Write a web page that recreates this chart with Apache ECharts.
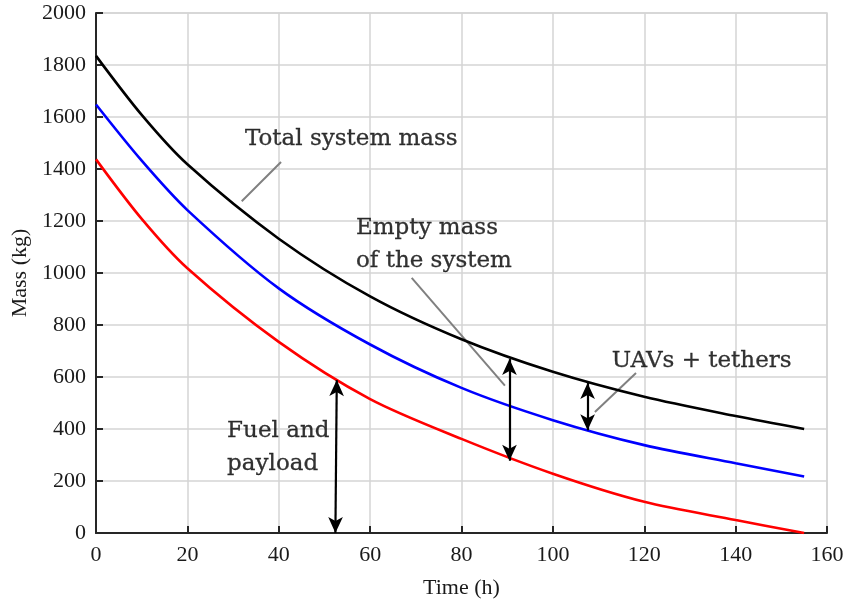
<!DOCTYPE html>
<html>
<head>
<meta charset="utf-8">
<script src="https://cdn.jsdelivr.net/npm/echarts@6/dist/echarts.min.js"></script>
<style>html,body{margin:0;padding:0;background:#fff}#c{width:844px;height:602px}</style>
</head>
<body>
<div id="c"></div>
<script>
// Data (time in h, mass in kg)
const totalMass = [[0,1835],[10,1608],[20,1418],[40,1132],[60,910],[80,745],[100,620],[120,524],[140,450],[155,400]];
const emptyMass = [[0,1648],[10,1432],[20,1242],[40,941],[60,725],[80,558],[100,434],[120,338],[140,268],[155,217]];
const fuelPayload = [[0,1437],[10,1208],[20,1018],[40,735],[60,515],[80,362],[100,228],[120,120],[140,50],[155,0]];
const xTicks = [0,20,40,60,80,100,120,140,160];
const yTicks = [0,200,400,600,800,1000,1200,1400,1600,1800,2000];

// Annotations (data coordinates)
const leaderTotal = [[31.9,1276],[40.5,1427]];
const leaderEmpty = [[69.1,981],[89.5,567]];
const leaderUav = [[109.2,465],[118.2,615]];
const arrowFuel = [[52.4,0],[52.7,588]];
const arrowEmpty = [[90.5,278],[90.5,669]];
const arrowUav = [[107.6,395],[107.6,577]];
const labels = [
  [32.6,1514,'Total system mass'],
  [56.9,1110,'Empty mass\nof the system'],
  [112.9,663,'UAVs + tethers'],
  [28.7,330,'Fuel and\npayload']
];

const tickFont = {fontFamily:'Liberation Serif', fontSize:22, color:'#1a1a1a'};
const chart = echarts.init(document.getElementById('c'), null, {renderer:'canvas'});

function leader(d){
  return {type:'line', data:d, symbol:'none', silent:true, z:3,
    lineStyle:{color:'#808080', width:2}};
}
function arrow(d){
  return [{coord:d[0], symbol:'arrow'},{coord:d[1], symbol:'arrow'}];
}

chart.setOption({
  animation:false,
  grid:{left:96, right:17, top:13, bottom:69, containLabel:false, outerBoundsMode:'none',
    show:true, borderColor:'#d4d4d4', borderWidth:1.5, backgroundColor:'transparent'},
  xAxis:{type:'value', min:0, max:160, interval:20,
    name:'Time (h)', nameLocation:'middle', nameGap:44,
    nameTextStyle:Object.assign({}, tickFont),
    axisLine:{lineStyle:{color:'#262626', width:2}},
    axisTick:{inside:true, length:7, lineStyle:{color:'#262626', width:2}},
    axisLabel:Object.assign({margin:11, formatter:v=>xTicks.includes(v)?String(v):''}, tickFont),
    splitLine:{show:true, lineStyle:{color:'#d4d4d4', width:1.5}}
  },
  yAxis:{type:'value', min:0, max:2000, interval:200,
    name:'Mass (kg)', nameLocation:'middle', nameGap:64,
    nameTextStyle:Object.assign({}, tickFont),
    axisLine:{show:true, lineStyle:{color:'#262626', width:2}},
    axisTick:{show:true, inside:true, length:7, lineStyle:{color:'#262626', width:2}},
    axisLabel:Object.assign({margin:10, formatter:v=>yTicks.includes(v)?String(v):''}, tickFont),
    splitLine:{show:true, lineStyle:{color:'#d4d4d4', width:1.5}}
  },
  series:[
    {name:'Total system mass', type:'line', data:totalMass, smooth:0.3, symbol:'none', z:4,
      lineStyle:{color:'#000000', width:2.6}},
    {name:'Empty mass', type:'line', data:emptyMass, smooth:0.3, symbol:'none', z:4,
      lineStyle:{color:'#0000ff', width:2.6}},
    {name:'Fuel and payload', type:'line', data:fuelPayload, smooth:0.3, symbol:'none', z:4,
      lineStyle:{color:'#ff0000', width:2.6},
      markLine:{silent:true, symbolSize:[11,16], label:{show:false}, z:5,
        lineStyle:{color:'#000000', width:2.2, type:'solid'},
        data:[arrow(arrowFuel), arrow(arrowEmpty), arrow(arrowUav)]}
    },
    leader(leaderTotal), leader(leaderEmpty), leader(leaderUav),
    {type:'scatter', data:labels, symbolSize:0, silent:true, z:6,
      label:{show:true, position:'right', distance:0, formatter:p=>p.data[2],
        fontFamily:'DejaVu Serif', fontSize:23, color:'#000000', lineHeight:33, align:'left',
        textBorderColor:'#000000', textBorderWidth:0.3}}
  ]
});
</script>
</body>
</html>
